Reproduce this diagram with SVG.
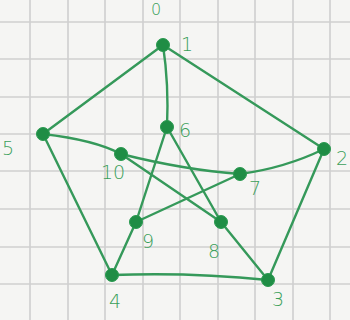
<svg xmlns="http://www.w3.org/2000/svg" width="350" height="320" viewBox="0 0 350 320">
<style>
.grid line{stroke:#cfcfcf;stroke-width:1.6}
.edge{fill:none;stroke:#35995a;stroke-width:2.4;stroke-linecap:round}
.node circle{fill:#1f8d45;stroke:#2a9a50;stroke-width:1}
.lbl{font-family:"DejaVu Sans",sans-serif;font-size:19px;fill:#3a9f5a;font-weight:300}
</style>
<rect width="350" height="320" fill="#f5f5f3"/>
<g class="grid">
<line x1="30" y1="0" x2="30" y2="320"/><line x1="68" y1="0" x2="68" y2="320"/><line x1="105" y1="0" x2="105" y2="320"/><line x1="143" y1="0" x2="143" y2="320"/><line x1="180" y1="0" x2="180" y2="320"/><line x1="218" y1="0" x2="218" y2="320"/><line x1="255" y1="0" x2="255" y2="320"/><line x1="293" y1="0" x2="293" y2="320"/><line x1="330" y1="0" x2="330" y2="320"/>
<line x1="0" y1="22" x2="350" y2="22"/><line x1="0" y1="59" x2="350" y2="59"/><line x1="0" y1="97" x2="350" y2="97"/><line x1="0" y1="134" x2="350" y2="134"/><line x1="0" y1="171" x2="350" y2="171"/><line x1="0" y1="209" x2="350" y2="209"/><line x1="0" y1="247" x2="350" y2="247"/><line x1="0" y1="284" x2="350" y2="284"/>
</g>
<g id="connectors">
<path class="edge" d="M163,45 L43,134"/>
<path class="edge" d="M163,45 L324,149"/>
<path class="edge" d="M163,45 Q169,85 167,127"/>
<path class="edge" d="M324,149 L268,280"/>
<path class="edge" d="M268,280 Q190,272 112,275"/>
<path class="edge" d="M112,275 L43,134"/>
<path class="edge" d="M43,134 Q95,140 121,154"/>
<path class="edge" d="M240,174 Q285,168 324,149"/>
<path class="edge" d="M268,280 L221,222"/>
<path class="edge" d="M112,275 L136,222"/>
<path class="edge" d="M167,127 L221,222"/>
<path class="edge" d="M167,127 L136,222"/>
<path class="edge" d="M121,154 L221,222"/>
<path class="edge" d="M121,154 Q185,170 240,174"/>
<path class="edge" d="M240,174 L136,222"/>
</g>
<g id="n1" class="node"><circle cx="163" cy="45" r="6.5"/><text class="lbl" x="181" y="51">1</text></g>
<g id="n2" class="node"><circle cx="324" cy="149" r="6.5"/><text class="lbl" x="336" y="165">2</text></g>
<g id="n3" class="node"><circle cx="268" cy="280" r="6.5"/><text class="lbl" x="272" y="306">3</text></g>
<g id="n4" class="node"><circle cx="112" cy="275" r="6.5"/><text class="lbl" x="109" y="308">4</text></g>
<g id="n5" class="node"><circle cx="43" cy="134" r="6.5"/><text class="lbl" x="2" y="155">5</text></g>
<g id="n6" class="node"><circle cx="167" cy="127" r="6.5"/><text class="lbl" x="179" y="137">6</text></g>
<g id="n7" class="node"><circle cx="240" cy="174" r="6.5"/><text class="lbl" x="249" y="195">7</text></g>
<g id="n8" class="node"><circle cx="221" cy="222" r="6.5"/><text class="lbl" x="208" y="258">8</text></g>
<g id="n9" class="node"><circle cx="136" cy="222" r="6.5"/><text class="lbl" x="142" y="248">9</text></g>
<g id="n10" class="node"><circle cx="121" cy="154" r="6.5"/><text class="lbl" x="101" y="179">10</text></g>
<text class="lbl" x="151" y="15" style="font-size:16px">0</text>
</svg>
